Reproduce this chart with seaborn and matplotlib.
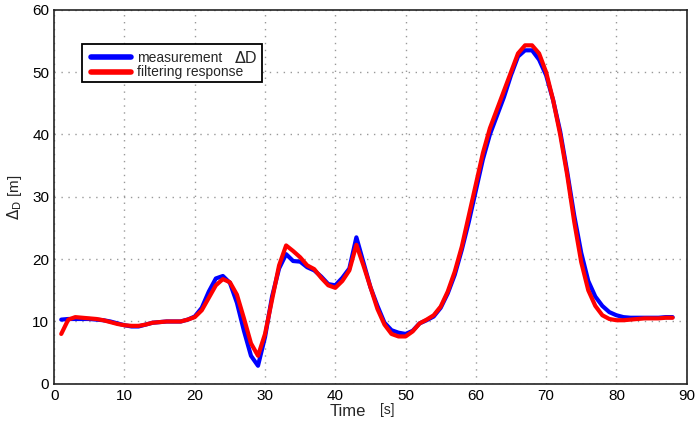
import numpy as np
import pandas as pd
import matplotlib
matplotlib.use('Agg')
import matplotlib.pyplot as plt
from matplotlib.patches import Rectangle
import seaborn as sns

# time samples [s]
time_s = list(range(1, 89))

# measured delta D [m]
measurement = [
    10.3, 10.4, 10.4, 10.4, 10.4, 10.3, 10.2, 10.0, 9.7, 9.4,
    9.2, 9.2, 9.5, 9.8, 9.9, 10.0, 10.0, 10.0, 10.3, 10.8,
    12.2, 14.8, 16.9, 17.3, 16.2, 13.0, 8.5, 4.5, 2.9, 7.5,
    14.0, 18.5, 20.8, 19.7, 19.6, 18.7, 18.2, 17.2, 16.0, 15.8,
    17.0, 18.5, 23.5, 19.5, 15.5, 12.5, 9.8, 8.6, 8.2, 8.0,
    8.5, 9.7, 10.2, 10.8, 12.2, 14.5, 17.5, 21.5, 26.0, 31.0,
    36.0, 40.0, 43.0, 46.0, 49.5, 52.5, 53.5, 53.5, 52.0, 49.5,
    45.5, 40.5, 34.0, 27.0, 21.0, 16.5, 14.0, 12.5, 11.5, 11.0,
    10.7, 10.6, 10.6, 10.6, 10.6, 10.6, 10.7, 10.7,
]

# filter output [m]
filtering = [
    8.0, 10.3, 10.7, 10.6, 10.5, 10.4, 10.2, 9.9, 9.6, 9.4,
    9.3, 9.3, 9.5, 9.8, 9.9, 10.0, 10.0, 10.0, 10.3, 10.7,
    11.8, 13.8, 15.8, 16.8, 16.3, 14.3, 10.5, 6.5, 4.5, 8.0,
    13.5, 19.0, 22.2, 21.3, 20.3, 19.0, 18.4, 17.0, 15.8, 15.4,
    16.5, 18.2, 22.3, 19.0, 15.5, 12.0, 9.5, 8.0, 7.6, 7.6,
    8.4, 9.7, 10.3, 11.0, 12.4, 14.8, 18.0, 22.0, 27.0, 32.0,
    37.0, 41.0, 44.0, 47.0, 50.0, 53.0, 54.3, 54.3, 53.0, 50.0,
    45.5, 40.0, 33.5, 26.0, 19.5, 15.0, 12.5, 11.0, 10.4, 10.2,
    10.2, 10.3, 10.4, 10.5, 10.5, 10.5, 10.6, 10.6,
]

x_ticks = [0, 10, 20, 30, 40, 50, 60, 70, 80, 90]
y_ticks = [0, 10, 20, 30, 40, 50, 60]

df = pd.DataFrame({'Time': time_s * 2,
                   'Delta': measurement + filtering,
                   'series': ['measurement'] * len(time_s) + ['filtering response'] * len(time_s)})

sns.set_style('white')
plt.rcParams['font.family'] = ['Liberation Sans', 'DejaVu Sans']

fig = plt.figure(figsize=(6.95, 4.26), dpi=100)
ax = fig.add_axes([0.078, 0.099, 0.91, 0.878])

sns.lineplot(data=df, x='Time', y='Delta', hue='series',
             palette={'measurement': '#0000ff', 'filtering response': '#ff0000'},
             linewidth=3, ax=ax)

ax.set_xlim(0, 90)
ax.set_ylim(0, 60)
ax.set_xticks(x_ticks)
ax.set_yticks(y_ticks)
ax.tick_params(labelsize=11, length=3, direction='in', colors='black')
ax.grid(True, linestyle=(0, (1, 4)), color='#999999', linewidth=1.0)
for s in ax.spines.values():
    s.set_color('#222222')
    s.set_linewidth(1.2)

ax.set_xlabel('')
fig.text(348 / 695, 1 - 411 / 426, 'Time', fontsize=12, ha='center', va='center')
fig.text(387 / 695, 1 - 410 / 426, '[s]', fontsize=10, ha='center', va='center')
ax.set_ylabel(r'$\Delta_{\mathrm{D}}$ [m]', fontsize=11, labelpad=6)

# legend without its own frame; frame drawn separately to hold the delta-D tag
leg = ax.legend(loc='upper left', bbox_to_anchor=(0.054, 0.898), fontsize=10,
                frameon=False, handlelength=2.9, borderpad=0.2,
                labelspacing=0.05, handletextpad=0.4, borderaxespad=0.0)
for ln in leg.get_lines():
    ln.set_linewidth(4)
ax.add_patch(Rectangle((0.044, 0.807), 0.285, 0.102, transform=ax.transAxes,
                       fill=True, facecolor='white', edgecolor='black',
                       linewidth=1.3, zorder=4))
leg.set_zorder(5)
ax.text(0.284, 0.872, r'$\Delta$D', transform=ax.transAxes, fontsize=11.5,
        ha='left', va='center', zorder=6)

fig.savefig('out.png', dpi=100)
